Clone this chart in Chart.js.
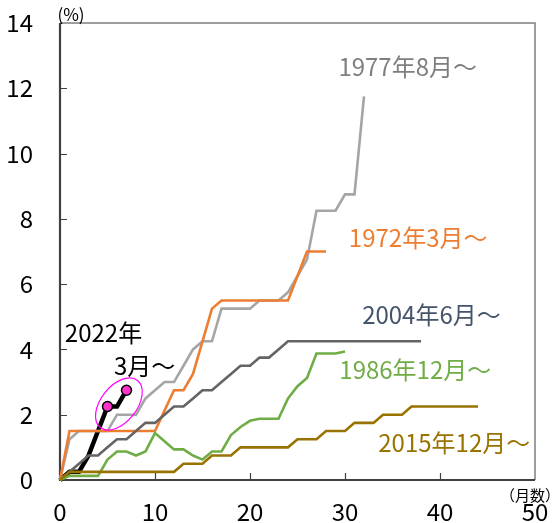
<!DOCTYPE html>
<html><head><meta charset="utf-8">
<script src="https://cdn.jsdelivr.net/npm/chart.js@4/dist/chart.umd.min.js"></script>
<style>html,body{margin:0;padding:0;background:#fff}#wrap{width:555px;height:523px;position:relative}</style>
</head><body><div id="wrap"><canvas id="c" width="555" height="523"></canvas></div>
<script>
// ---- data (cumulative rise, %, by months since start) ----
const monthTicks = [0, 10, 20, 30, 40, 50];
const rateTicks = [0, 2, 4, 6, 8, 10, 12, 14];

const series1977 = [0,1.25,1.5,1.5,1.5,1.5,2,2,2,2.5,2.75,3,3,3.5,4,4.25,4.25,5.25,5.25,5.25,5.25,5.5,5.5,5.5,5.75,6.25,6.75,8.25,8.25,8.25,8.75,8.75,11.75];
const series1972 = [0,1.5,1.5,1.5,1.5,1.5,1.5,1.5,1.5,1.5,1.5,2.125,2.75,2.75,3.25,4.25,5.25,5.5,5.5,5.5,5.5,5.5,5.5,5.5,5.5,6.25,7,7,7];
const series2004 = [0,0.25,0.5,0.75,0.75,1,1.25,1.25,1.5,1.75,1.75,2,2.25,2.25,2.5,2.75,2.75,3,3.25,3.5,3.5,3.75,3.75,4,4.25,4.25,4.25,4.25,4.25,4.25,4.25,4.25,4.25,4.25,4.25,4.25,4.25,4.25,4.25];
const series1986 = [0,0.125,0.125,0.125,0.125,0.625,0.875,0.875,0.75,0.875,1.4375,1.1875,0.9375,0.9375,0.75,0.625,0.875,0.875,1.375,1.625,1.8125,1.875,1.875,1.875,2.5,2.875,3.125,3.875,3.875,3.875,3.9375];
const series2015 = [0,0.25,0.25,0.25,0.25,0.25,0.25,0.25,0.25,0.25,0.25,0.25,0.25,0.5,0.5,0.5,0.75,0.75,0.75,1,1,1,1,1,1,1.25,1.25,1.25,1.5,1.5,1.5,1.75,1.75,1.75,2,2,2,2.25,2.25,2.25,2.25,2.25,2.25,2.25,2.25];
const series2022 = [0,0.25,0.25,0.75,1.5,2.25,2.25,2.75];
const markedMonths2022 = [5, 7];

const seriesNames = ['1977年8月～','1972年3月～','2004年6月～','1986年12月～','2015年12月～','2022年3月～'];

const toXY = arr => arr.map((v, i) => ({x: i, y: v}));
const FONT = '"Noto Sans CJK JP", "Noto Sans", sans-serif';

const notes = [
  {text: '1977年8月～', color: '#7f7f7f', x: 36.6, y: 12.65},
  {text: '1972年3月～', color: '#ed7d31', x: 37.7, y: 7.41},
  {text: '2004年6月～', color: '#44546a', x: 39.1, y: 5.06},
  {text: '1986年12月～', color: '#70ad47', x: 37.4, y: 3.37},
  {text: '2015年12月～', color: '#997300', x: 41.5, y: 1.13},
  {text: '2022年', color: '#000000', x: 4.58, y: 4.5},
  {text: '3月～', color: '#000000', x: 8.9, y: 3.49}
];

const framePlugin = {
  id: 'framePlugin',
  beforeDatasetsDraw(chart) {
    const {ctx, chartArea: a, scales: {x, y}} = chart;
    ctx.save();
    ctx.strokeStyle = '#7f7f7f'; ctx.lineWidth = 1.5;
    ctx.beginPath(); ctx.moveTo(a.left, a.top); ctx.lineTo(a.right, a.top); ctx.lineTo(a.right, a.bottom); ctx.stroke();
    ctx.strokeStyle = '#404040'; ctx.lineWidth = 1.2;
    ctx.beginPath();
    rateTicks.forEach(v => { if (v > y.min && v < y.max) { const py = Math.round(y.getPixelForValue(v)) + 0.5; ctx.moveTo(a.left, py); ctx.lineTo(a.left + 7, py); } });
    monthTicks.forEach(v => { if (v > x.min && v < x.max) { const px = Math.round(x.getPixelForValue(v)) + 0.5; ctx.moveTo(px, a.bottom); ctx.lineTo(px, a.bottom - 7); } });
    ctx.stroke();
    ctx.strokeStyle = '#404040'; ctx.lineWidth = 2.2;
    ctx.beginPath(); ctx.moveTo(a.left, a.top); ctx.lineTo(a.left, a.bottom); ctx.lineTo(a.right, a.bottom); ctx.stroke();
    ctx.restore();
  },
  afterDatasetsDraw(chart) {
    const {ctx, chartArea: a, scales: {x, y}} = chart;
    ctx.save();
    // ellipse around latest points
    ctx.strokeStyle = '#ff00ff'; ctx.lineWidth = 1.2;
    ctx.beginPath();
    ctx.ellipse(x.getPixelForValue(6.2), y.getPixelForValue(2.33), 30, 18, -0.9, 0, Math.PI * 2);
    ctx.stroke();
    ctx.textAlign = 'center'; ctx.textBaseline = 'middle';
    ctx.font = '24px ' + FONT;
    notes.forEach(n => { ctx.fillStyle = n.color; ctx.fillText(n.text, x.getPixelForValue(n.x), y.getPixelForValue(n.y)); });
    ctx.fillStyle = '#000';
    ctx.font = '17px ' + FONT;
    ctx.fillText('(%)', a.left + 11, a.top - 8);
    ctx.font = '15px ' + FONT;
    ctx.fillText('（月数）', a.right - 5, a.bottom + 15);
    ctx.restore();
  }
};

const ds = (label, data, color, width) => ({
  label, data: toXY(data), borderColor: color, backgroundColor: color,
  borderWidth: width, pointRadius: 0, tension: 0, clip: false, fill: false
});

new Chart(document.getElementById('c'), {
  type: 'line',
  data: {
    datasets: [
      ds(seriesNames[4], series2015, '#997300', 2.6),
      ds(seriesNames[3], series1986, '#70ad47', 2.6),
      ds(seriesNames[2], series2004, '#646464', 2.6),
      ds(seriesNames[1], series1972, '#ed7d31', 2.6),
      ds(seriesNames[0], series1977, '#a5a5a5', 2.6),
      Object.assign(ds(seriesNames[5], series2022, '#000000', 4.5), {
        pointRadius: c => markedMonths2022.includes(c.dataIndex) ? 5 : 0,
        pointBackgroundColor: '#ff33cc', pointBorderColor: '#000', pointBorderWidth: 1.5
      })
    ]
  },
  options: {
    responsive: false, animation: false,
    layout: {padding: {top: 23, right: 20, left: 0, bottom: 0}},
    plugins: {legend: {display: false}, tooltip: {enabled: false}},
    scales: {
      x: {
        type: 'linear', min: 0, max: 50,
        afterBuildTicks: s => { s.ticks = monthTicks.map(v => ({value: v})); },
        afterFit: s => { s.height = 43; s.paddingLeft = 0; s.paddingRight = 0; },
        grid: {display: false, drawTicks: false}, border: {display: false},
        ticks: {font: {family: FONT, size: 24}, color: '#000', padding: 17, maxRotation: 0}
      },
      y: {
        min: 0, max: 14,
        afterBuildTicks: s => { s.ticks = rateTicks.map(v => ({value: v})); },
        afterFit: s => { s.width = 60; s.paddingTop = 0; s.paddingBottom = 0; },
        grid: {display: false, drawTicks: false}, border: {display: false},
        ticks: {font: {family: FONT, size: 24}, color: '#000', padding: 27}
      }
    }
  },
  plugins: [framePlugin]
});
</script></body></html>
